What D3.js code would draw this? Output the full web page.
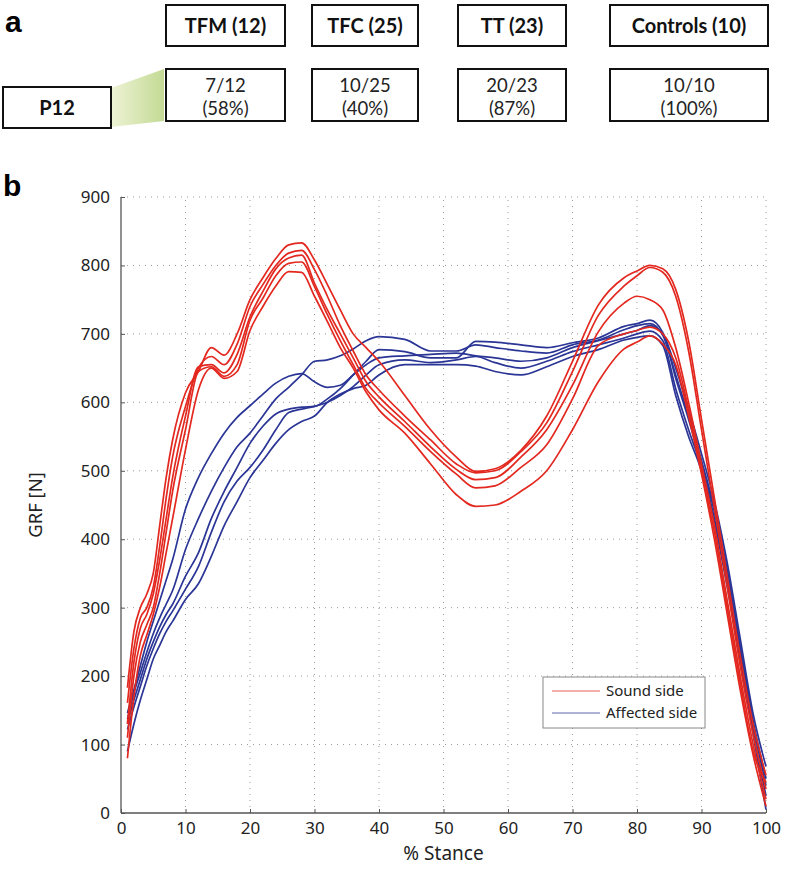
<!DOCTYPE html>
<html>
<head>
<meta charset="utf-8">
<script src="https://cdn.jsdelivr.net/npm/d3@7"></script>
<style>
  html, body { margin: 0; padding: 0; background: #fff; }
  svg { display: block; }
</style>
</head>
<body>
<svg id="chart" width="787" height="876"></svg>
<script>
// ---------- Panel a data ----------
const groups = ["TFM (12)", "TFC (25)", "TT (23)", "Controls (10)"];
const fractions = ["7/12", "10/25", "20/23", "10/10"];
const percents = ["(58%)", "(40%)", "(87%)", "(100%)"];
const subject = "P12";

// ---------- Panel b data ----------
const stance = [1,2,3,4,5,6,7,8,10,12,14,16,18,20,22,24,26,28,30,32,34,36,38,40,44,48,52,55,58,62,66,70,74,78,80,82,84,86,88,90,92,94,96,98,100];

const sound1 = [183,265,300,320,350,420,490,545,614,645,680,669,700,750,782,810,830,833,808,772,735,700,680,660,610,560,520,499,503,530,580,660,742,782,792,800,795,765,690,575,460,345,230,130,55];
const sound2 = [161,240,285,300,330,390,460,520,594,650,667,655,685,740,772,800,818,822,794,755,712,675,640,618,580,545,510,497,500,528,570,645,727,770,785,797,790,755,675,560,445,330,215,115,35];
const sound3 = [130,220,270,290,320,370,430,490,580,652,655,643,670,725,762,795,811,815,774,735,700,665,630,608,572,535,502,487,490,520,560,625,703,745,755,750,735,680,600,510,420,310,200,100,20];
const sound4 = [110,200,250,275,300,350,410,470,560,645,652,638,655,720,752,785,803,805,769,728,690,655,620,599,565,528,495,475,478,505,538,605,683,700,705,710,700,665,590,500,410,300,190,90,45];
const sound5 = [80,170,230,260,290,330,380,430,531,618,650,635,645,705,740,770,791,790,755,718,680,650,615,589,555,510,465,448,450,470,500,560,630,678,688,697,685,655,580,495,400,290,180,85,10];

const affected1 = [146,180,215,250,280,310,340,370,444,490,525,555,578,595,612,628,638,642,630,622,625,640,655,665,668,670,672,668,665,660,665,680,690,700,705,712,700,650,590,525,455,365,255,145,68];
const affected2 = [137,175,205,235,262,285,305,325,385,430,470,505,535,555,580,605,622,640,660,662,668,678,690,696,692,675,675,684,680,675,672,684,691,706,712,715,698,640,580,515,445,355,245,135,50];
const affected3 = [132,165,195,225,250,272,290,305,346,380,430,470,505,540,565,583,590,593,594,605,620,640,660,677,674,665,665,689,688,684,680,687,694,711,715,720,702,635,575,510,440,345,240,130,40];
const affected4 = [122,155,185,215,240,262,280,295,327,360,410,455,485,505,530,560,585,590,594,600,610,623,640,655,662,658,662,667,658,650,660,674,684,694,700,704,690,620,560,505,430,335,230,120,25];
const affected5 = [90,130,165,195,225,245,265,280,312,335,375,420,455,490,515,540,560,572,580,600,612,620,625,640,655,655,655,653,645,640,652,667,677,691,695,697,683,610,550,500,425,330,225,115,5];

const soundSeries = [sound1, sound2, sound3, sound4, sound5];
const affectedSeries = [affected1, affected2, affected3, affected4, affected5];

const xTicks = [0,10,20,30,40,50,60,70,80,90,100];
const yTicks = [0,100,200,300,400,500,600,700,800,900];
const legendLabels = ["Sound side", "Affected side"];

const RED = "#e3281f";
const BLUE = "#2a3596";

const svg = d3.select("#chart");

// ---------- Panel a ----------
const fontBox = "Lato, 'Open Sans', sans-serif";
svg.append("text").attr("x", 5).attr("y", 32)
  .attr("font-family", "'Liberation Sans', Arial, sans-serif")
  .attr("font-weight", "bold").attr("font-size", 30).text("a");
svg.append("text").attr("x", 3).attr("y", 196)
  .attr("font-family", "'Liberation Sans', Arial, sans-serif")
  .attr("font-weight", "bold").attr("font-size", 30).text("b");

const boxX = d3.scaleOrdinal().domain(groups).range([[166,285],[312,418],[458,566],[610,768]]);

const defs = svg.append("defs");
const grad = defs.append("linearGradient").attr("id", "greenGrad")
  .attr("x1", "0%").attr("x2", "100%").attr("y1", "0%").attr("y2", "0%");
grad.append("stop").attr("offset", "0%").attr("stop-color", "#eef3d6");
grad.append("stop").attr("offset", "100%").attr("stop-color", "#c3da94");

// green trapezoid from P12 box to first result box
svg.append("path")
  .attr("d", "M111,88 L164,69 L164,121 L111,127 Z")
  .attr("fill", "url(#greenGrad)");

groups.forEach((g, i) => {
  const [x0, x1] = boxX(g);
  svg.append("rect").attr("x", x0).attr("y", 5).attr("width", x1 - x0).attr("height", 41)
    .attr("fill", "#fff").attr("stroke", "#111").attr("stroke-width", 2);
  svg.append("text").attr("x", (x0 + x1) / 2).attr("y", 33)
    .attr("text-anchor", "middle").attr("font-family", fontBox)
    .attr("font-weight", "bold").attr("font-size", 20).attr("fill", "#111").text(g);

  svg.append("rect").attr("x", x0).attr("y", 69).attr("width", x1 - x0).attr("height", 52)
    .attr("fill", "#fff").attr("stroke", "#111").attr("stroke-width", 2);
  svg.append("text").attr("x", (x0 + x1) / 2).attr("y", 92)
    .attr("text-anchor", "middle").attr("font-family", fontBox)
    .attr("font-size", 18.5).attr("fill", "#222").text(fractions[i]);
  svg.append("text").attr("x", (x0 + x1) / 2).attr("y", 115)
    .attr("text-anchor", "middle").attr("font-family", fontBox)
    .attr("font-size", 18.5).attr("fill", "#222").text(percents[i]);
});

svg.append("rect").attr("x", 3).attr("y", 87).attr("width", 108).attr("height", 41)
  .attr("fill", "#fff").attr("stroke", "#111").attr("stroke-width", 2);
svg.append("text").attr("x", 57).attr("y", 115)
  .attr("text-anchor", "middle").attr("font-family", fontBox)
  .attr("font-weight", "bold").attr("font-size", 20).attr("fill", "#111").text(subject);

// ---------- Panel b ----------
const x = d3.scaleLinear().domain([0, 100]).range([121, 766]);
const y = d3.scaleLinear().domain([0, 900]).range([813, 197]);
const axisFont = "'Noto Sans', 'Open Sans', sans-serif";

// grid
const grid = svg.append("g");
xTicks.filter(t => t > 0).forEach(t => {
  grid.append("line").attr("x1", x(t)).attr("x2", x(t)).attr("y1", y(0)).attr("y2", y(900))
    .attr("stroke", "#9a9a9a").attr("stroke-width", 1).attr("stroke-dasharray", "1,5");
});
yTicks.filter(t => t > 0).forEach(t => {
  grid.append("line").attr("x1", x(0)).attr("x2", x(100)).attr("y1", y(t)).attr("y2", y(t))
    .attr("stroke", "#9a9a9a").attr("stroke-width", 1).attr("stroke-dasharray", "1,5");
});

// lines
const line = d3.line().x((d, i) => x(stance[i])).y(d => y(d)).curve(d3.curveMonotoneX);
const lines = svg.append("g").attr("fill", "none").attr("stroke-width", 1.7);
affectedSeries.forEach(s => lines.append("path").attr("d", line(s)).attr("stroke", BLUE));
soundSeries.forEach(s => lines.append("path").attr("d", line(s)).attr("stroke", RED));

// axes
const xAxis = d3.axisBottom(x).tickValues(xTicks).tickSize(-4).tickPadding(7);
const yAxis = d3.axisLeft(y).tickValues(yTicks).tickSize(-4).tickPadding(11);
const gx = svg.append("g").attr("transform", `translate(0,${y(0)})`).call(xAxis);
const gy = svg.append("g").attr("transform", `translate(${x(0)},0)`).call(yAxis);
[gx, gy].forEach(g => {
  g.select(".domain").attr("stroke", "#555").attr("stroke-width", 1.3);
  g.selectAll(".tick line").attr("stroke", "#555");
  g.selectAll(".tick text").attr("font-family", axisFont).attr("font-size", 17).attr("fill", "#222");
});
gx.selectAll(".tick text").attr("dy", "0.8em");
gy.select(".domain").attr("d", `M0,${y(0)}V${y(900)}`);
gx.select(".domain").attr("d", `M${x(0)},0H${x(100)}`);

svg.append("text").attr("x", (x(0) + x(100)) / 2).attr("y", 860)
  .attr("text-anchor", "middle").attr("font-family", axisFont).attr("font-size", 19)
  .attr("fill", "#222").text("% Stance");
svg.append("text").attr("transform", `translate(42,${(y(0) + y(900)) / 2}) rotate(-90)`)
  .attr("text-anchor", "middle").attr("font-family", axisFont).attr("font-size", 18.5)
  .attr("fill", "#222").text("GRF [N]");

// legend
const lg = svg.append("g");
lg.append("rect").attr("x", 543).attr("y", 677).attr("width", 162).attr("height", 51)
  .attr("fill", "#fff").attr("stroke", "#888").attr("stroke-width", 1);
[RED, BLUE].forEach((c, i) => {
  const ly = 691 + i * 22;
  lg.append("line").attr("x1", 552).attr("x2", 600).attr("y1", ly).attr("y2", ly)
    .attr("stroke", c).attr("stroke-width", 1.2).attr("opacity", 0.75);
  lg.append("text").attr("x", 606).attr("y", ly + 5).attr("font-family", axisFont)
    .attr("font-size", 15).attr("fill", "#222").text(legendLabels[i]);
});
</script>
</body>
</html>
